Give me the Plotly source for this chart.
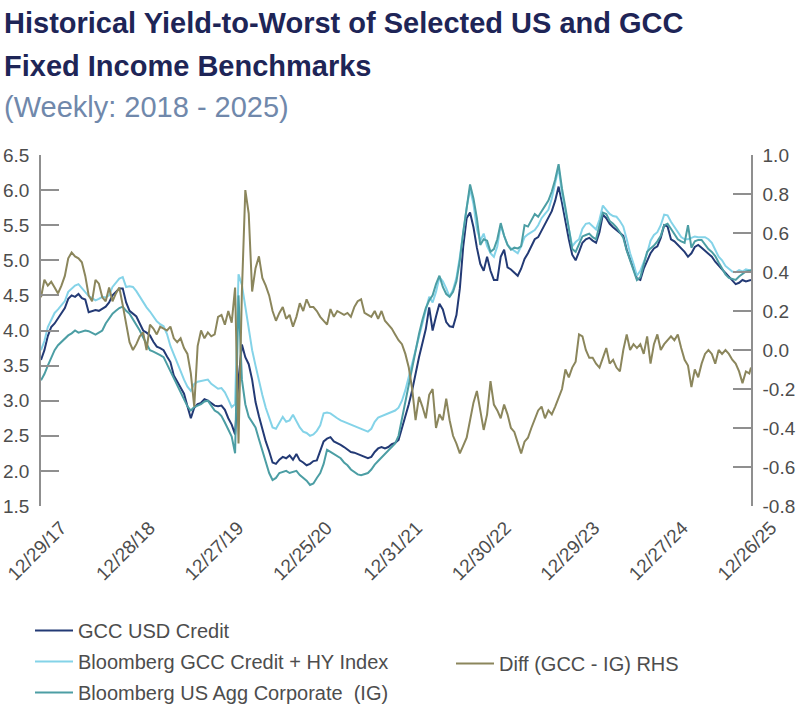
import pandas as pd
import plotly.graph_objects as go

# ---------------- data (bi-weekly sampling) ----------------
dates = list(pd.date_range("2017-12-29", periods=209, freq="14D")) + [pd.Timestamp("2025-12-26")]

gcc_usd_credit = [
    3.58, 3.72, 3.92, 4.05, 4.10, 4.18, 4.26, 4.32, 4.45, 4.50,
    4.48, 4.52, 4.46, 4.44, 4.26, 4.27, 4.29, 4.28, 4.31, 4.34,
    4.40, 4.50, 4.55, 4.60, 4.60, 4.40, 4.28, 4.24, 4.20, 4.10,
    4.00, 3.97, 3.93, 3.84, 3.77, 3.75, 3.72, 3.63, 3.55, 3.36,
    3.28, 3.20, 3.10, 2.92, 2.75, 2.90, 2.95, 2.97, 3.02, 3.00,
    2.96, 2.93, 2.92, 2.93, 2.87, 2.75, 2.66, 2.52, 3.30, 3.80,
    3.62, 3.52, 3.30, 2.98, 2.78, 2.58, 2.42, 2.28, 2.12, 2.10,
    2.16, 2.20, 2.18, 2.22, 2.16, 2.24, 2.15, 2.12, 2.08, 2.10,
    2.14, 2.15, 2.30, 2.42, 2.46, 2.48, 2.42, 2.40, 2.37, 2.34,
    2.30, 2.27, 2.26, 2.24, 2.22, 2.20, 2.18, 2.20, 2.27, 2.32,
    2.34, 2.32, 2.34, 2.38, 2.40, 2.44, 2.60, 2.77, 2.95, 3.15,
    3.40, 3.62, 3.82, 4.02, 4.33, 4.00, 4.20, 4.38, 4.30, 4.12,
    4.06, 4.05, 4.22, 4.60, 5.20, 5.60, 5.68, 5.47, 5.18, 4.95,
    4.85, 5.05, 4.85, 4.72, 4.72, 5.05, 5.15, 4.90, 4.87, 4.82,
    4.78, 4.88, 5.02, 5.10, 5.20, 5.30, 5.33, 5.42, 5.53, 5.60,
    5.70, 5.85, 6.05, 5.82, 5.55, 5.30, 5.08, 5.00, 5.12, 5.25,
    5.30, 5.32, 5.28, 5.25, 5.40, 5.65, 5.60, 5.52, 5.47, 5.43,
    5.38, 5.35, 5.15, 5.00, 4.88, 4.74, 4.72, 4.88, 5.00, 5.10,
    5.17, 5.20, 5.32, 5.50, 5.48, 5.30, 5.27, 5.22, 5.18, 5.12,
    5.05, 5.10, 5.19, 5.22, 5.18, 5.14, 5.10, 5.05, 4.98, 4.92,
    4.87, 4.82, 4.77, 4.72, 4.66, 4.68, 4.72, 4.70, 4.72, 4.72,
]

bbg_gcc_credit_hy = [
    3.72, 3.85, 4.05, 4.15, 4.25, 4.30, 4.36, 4.42, 4.55, 4.60,
    4.64, 4.66, 4.60, 4.55, 4.49, 4.46, 4.43, 4.45, 4.48, 4.47,
    4.50, 4.62, 4.68, 4.74, 4.76, 4.62, 4.63, 4.62, 4.56, 4.48,
    4.40, 4.33, 4.27, 4.19, 4.13, 4.09, 4.06, 3.95, 3.78, 3.66,
    3.55, 3.42, 3.30, 3.20, 3.14, 3.24, 3.27, 3.28, 3.30, 3.30,
    3.24, 3.20, 3.17, 3.18, 3.12, 3.02, 2.91, 2.95, 4.80, 4.65,
    4.33, 4.00, 3.72, 3.50, 3.28, 3.08, 2.90, 2.75, 2.62, 2.60,
    2.68, 2.77, 2.70, 2.72, 2.80, 2.70, 2.62, 2.56, 2.54, 2.50,
    2.52, 2.57, 2.65, 2.82, 2.83, 2.82, 2.78, 2.75, 2.72, 2.70,
    2.68, 2.66, 2.64, 2.62, 2.59, 2.58, 2.56, 2.60, 2.70, 2.76,
    2.78, 2.80, 2.82, 2.84, 2.86, 2.90, 3.00, 3.15, 3.34, 3.50,
    3.72, 3.90, 4.10, 4.30, 4.48, 4.40, 4.55, 4.76, 4.70, 4.60,
    4.48, 4.58, 4.75, 5.05, 5.40, 5.75, 6.02, 5.80, 5.45, 5.28,
    5.38, 5.20, 5.10, 5.05, 5.20, 5.50, 5.35, 5.22, 5.17, 5.14,
    5.10, 5.20, 5.33, 5.37, 5.40, 5.43, 5.50, 5.60, 5.66, 5.72,
    5.88, 6.10, 6.32, 5.95, 5.70, 5.42, 5.20, 5.26, 5.30, 5.45,
    5.52, 5.53, 5.48, 5.44, 5.58, 5.78, 5.72, 5.66, 5.63, 5.62,
    5.56, 5.48, 5.30, 5.10, 4.95, 4.78, 4.85, 4.98, 5.10, 5.28,
    5.36, 5.40, 5.50, 5.65, 5.64, 5.55, 5.48, 5.40, 5.33, 5.30,
    5.30, 5.32, 5.34, 5.33, 5.33, 5.33, 5.30, 5.25, 5.15, 5.05,
    5.00, 4.92, 4.88, 4.84, 4.83, 4.86, 4.84, 4.87, 4.86, 4.86,
]

bbg_us_agg_corp_ig = [
    3.29, 3.38, 3.50, 3.62, 3.72, 3.79, 3.84, 3.88, 3.93, 3.96,
    4.00, 3.97, 3.98, 4.00, 3.99, 3.96, 3.94, 3.97, 4.00, 4.10,
    4.17, 4.24, 4.28, 4.32, 4.34, 4.28, 4.24, 4.16, 4.10, 4.00,
    3.90, 3.80, 3.72, 3.70, 3.68, 3.65, 3.62, 3.52, 3.42, 3.32,
    3.23, 3.12, 3.03, 2.92, 2.86, 2.91, 2.93, 2.95, 2.99, 3.00,
    2.93, 2.86, 2.83, 2.78, 2.69, 2.60, 2.49, 2.25, 4.50, 3.30,
    2.95, 2.77, 2.70, 2.62, 2.45, 2.30, 2.12, 1.97, 1.87, 1.90,
    1.97, 1.98, 2.00, 1.97, 1.98, 2.00, 1.94, 1.90, 1.86, 1.80,
    1.82, 1.90, 1.97, 2.10, 2.30, 2.27, 2.24, 2.21, 2.18, 2.12,
    2.08, 2.02, 1.98, 1.95, 1.94, 1.96, 1.97, 2.02, 2.09, 2.14,
    2.19, 2.24, 2.30, 2.34, 2.39, 2.50, 2.75, 3.00, 3.25, 3.48,
    3.72, 3.95, 4.15, 4.32, 4.43, 4.50, 4.66, 4.78, 4.62, 4.52,
    4.48, 4.55, 4.70, 5.00, 5.40, 5.78, 6.08, 5.88, 5.60, 5.22,
    5.30, 5.28, 5.12, 5.16, 5.30, 5.53, 5.35, 5.22, 5.15, 5.18,
    5.17, 5.20, 5.50, 5.48, 5.58, 5.66, 5.62, 5.70, 5.77, 5.85,
    5.98, 6.15, 6.37, 6.02, 5.75, 5.45, 5.16, 5.12, 5.22, 5.34,
    5.36, 5.38, 5.33, 5.30, 5.50, 5.68, 5.66, 5.56, 5.52, 5.47,
    5.40, 5.32, 5.14, 5.00, 4.86, 4.72, 4.76, 4.95, 5.12, 5.17,
    5.21, 5.27, 5.35, 5.50, 5.52, 5.45, 5.38, 5.30, 5.27, 5.25,
    5.50, 5.18, 5.27, 5.29, 5.29, 5.22, 5.16, 5.12, 5.06, 4.97,
    4.88, 4.80, 4.75, 4.73, 4.72, 4.77, 4.81, 4.84, 4.85, 4.86,
]

diff_gcc_ig = [
    0.27, 0.36, 0.33, 0.35, 0.32, 0.29, 0.33, 0.38, 0.47, 0.50,
    0.48, 0.47, 0.45, 0.38, 0.28, 0.25, 0.36, 0.34, 0.27, 0.25,
    0.32, 0.25, 0.29, 0.32, 0.23, 0.14, 0.04, 0.00, 0.03, 0.07,
    0.09, 0.00, 0.13, 0.11, 0.08, 0.12, 0.11, 0.10, 0.12, 0.06,
    0.04, 0.06, 0.01, -0.02, -0.12, -0.29, 0.02, 0.10, 0.06, 0.09,
    0.07, 0.08, 0.17, 0.18, 0.13, 0.20, 0.14, 0.32, -0.48, 0.30,
    0.82, 0.70, 0.30, 0.42, 0.48, 0.37, 0.33, 0.28, 0.20, 0.15,
    0.19, 0.22, 0.16, 0.18, 0.12, 0.17, 0.24, 0.20, 0.26, 0.22,
    0.22, 0.20, 0.17, 0.15, 0.13, 0.21, 0.17, 0.20, 0.19, 0.18,
    0.19, 0.17, 0.22, 0.25, 0.26, 0.19, 0.18, 0.17, 0.20, 0.16,
    0.20, 0.15, 0.13, 0.11, 0.08, 0.05, 0.03, -0.02, -0.09, -0.20,
    -0.36, -0.24, -0.29, -0.35, -0.23, -0.20, -0.40, -0.33, -0.36, -0.25,
    -0.36, -0.44, -0.48, -0.53, -0.49, -0.45, -0.36, -0.27, -0.21, -0.32,
    -0.41, -0.33, -0.16, -0.28, -0.31, -0.35, -0.28, -0.33, -0.40, -0.42,
    -0.48, -0.53, -0.47, -0.45, -0.40, -0.35, -0.31, -0.29, -0.35, -0.31,
    -0.33, -0.29, -0.24, -0.20, -0.10, -0.14, -0.09, -0.06, 0.08, 0.07,
    0.00, -0.04, -0.04, -0.07, -0.09, -0.04, 0.01, -0.07, -0.05, -0.09,
    -0.11, 0.00, 0.08, 0.00, 0.03, 0.01, 0.03, -0.02, 0.07, -0.07,
    0.03, 0.08, 0.00, 0.03, 0.05, 0.07, 0.05, 0.08, 0.01, -0.05,
    -0.08, -0.19, -0.10, -0.14, -0.07, -0.02, 0.00, -0.02, -0.07, 0.00,
    -0.02, 0.00, -0.02, -0.05, -0.07, -0.11, -0.17, -0.11, -0.12, -0.09,
]

x_tick_dates = ["2017-12-29", "2018-12-28", "2019-12-27", "2020-12-25", "2021-12-31",
                "2022-12-30", "2023-12-29", "2024-12-27", "2025-12-26"]
x_tick_labels = ["12/29/17", "12/28/18", "12/27/19", "12/25/20", "12/31/21",
                 "12/30/22", "12/29/23", "12/27/24", "12/26/25"]
left_ticks = [1.5, 2.0, 2.5, 3.0, 3.5, 4.0, 4.5, 5.0, 5.5, 6.0, 6.5]
left_tick_labels = ["1.5", "2.0", "2.5", "3.0", "3.5", "4.0", "4.5", "5.0", "5.5", "6.0", "6.5"]
right_ticks = [-0.8, -0.6, -0.4, -0.2, 0.0, 0.2, 0.4, 0.6, 0.8, 1.0]
right_tick_labels = ["-0.8", "-0.6", "-0.4", "-0.2", "0.0", "0.2", "0.4", "0.6", "0.8", "1.0"]

# ---------------- styling ----------------
NAVY = "#233a75"
LIGHT = "#84d3e8"
TEAL = "#4c9ea4"
OLIVE = "#8b865c"
AXIS = "#8f8f8f"
TXT = "#4d4d4d"
FONT = "Liberation Sans, Arial, sans-serif"

W, H = 800, 719
PL, PR, PT, PB = 41, 751, 155, 506  # plot area in pixels


def px_x(p):
    return p / W


def px_y(p):
    return 1 - p / H


fig = go.Figure()
fig.add_trace(go.Scatter(x=dates, y=gcc_usd_credit, name="GCC USD Credit", mode="lines",
                         line=dict(color=NAVY, width=2), legend="legend", legendgroup="a"))
fig.add_trace(go.Scatter(x=dates, y=bbg_gcc_credit_hy, name="Bloomberg GCC Credit + HY Index", mode="lines",
                         line=dict(color=LIGHT, width=2), legend="legend", legendgroup="b"))
fig.add_trace(go.Scatter(x=dates, y=bbg_us_agg_corp_ig, name="Bloomberg US Agg Corporate  (IG)", mode="lines",
                         line=dict(color=TEAL, width=2), legend="legend", legendgroup="c"))
fig.add_trace(go.Scatter(x=dates, y=diff_gcc_ig, name="Diff (GCC - IG) RHS", mode="lines",
                         line=dict(color=OLIVE, width=2), yaxis="y2", legend="legend2"))

fig.update_layout(
    width=W, height=H,
    margin=dict(l=0, r=0, t=0, b=0),
    paper_bgcolor="white", plot_bgcolor="white",
    font=dict(family=FONT, size=19, color=TXT),
    showlegend=True,
    xaxis=dict(
        domain=[px_x(PL), px_x(PR)],
        type="date",
        range=["2017-12-29", "2025-12-26"],
        tickvals=x_tick_dates, ticktext=x_tick_labels,
        tickangle=-45, showgrid=False, zeroline=False, showline=False, ticks="",
        tickfont=dict(size=19, color=TXT), ticklabelshift=20, ticklabelstandoff=6,
        automargin=False,
    ),
    yaxis=dict(
        domain=[px_y(PB), px_y(PT)],
        range=[1.5, 6.5], tickvals=left_ticks, ticktext=left_tick_labels,
        showgrid=False, zeroline=False, showline=True, linecolor=AXIS, linewidth=1.5,
        ticks="inside", ticklen=18, tickwidth=1.5, tickcolor=AXIS,
        tickfont=dict(size=19, color=TXT), ticklabelstandoff=6, automargin=False,
    ),
    yaxis2=dict(
        range=[-0.8, 1.0], tickvals=right_ticks, ticktext=right_tick_labels,
        overlaying="y", side="right", anchor="x",
        showgrid=False, zeroline=False, showline=True, linecolor=AXIS, linewidth=1.5,
        ticks="inside", ticklen=18, tickwidth=1.5, tickcolor=AXIS,
        tickfont=dict(size=19, color=TXT), ticklabelstandoff=6, automargin=False,
    ),
    legend=dict(
        x=px_x(30), y=px_y(611),
        xanchor="left", yanchor="top", orientation="v",
        font=dict(size=20, color=TXT), tracegroupgap=2, itemwidth=38,
        bgcolor="rgba(0,0,0,0)",
    ),
    legend2=dict(
        x=px_x(451), y=px_y(644),
        xanchor="left", yanchor="top", orientation="v",
        font=dict(size=20, color=TXT), itemwidth=38,
        bgcolor="rgba(0,0,0,0)",
    ),
)

fig.add_annotation(text="<b>Historical Yield-to-Worst of Selected US and GCC</b>",
                   xref="paper", yref="paper", x=px_x(2), y=px_y(5),
                   xanchor="left", yanchor="top", showarrow=False,
                   font=dict(family=FONT, size=29, color="#1e2557"))
fig.add_annotation(text="<b>Fixed Income Benchmarks</b>",
                   xref="paper", yref="paper", x=px_x(2), y=px_y(48),
                   xanchor="left", yanchor="top", showarrow=False,
                   font=dict(family=FONT, size=29, color="#1e2557"))
fig.add_annotation(text="(Weekly: 2018 - 2025)",
                   xref="paper", yref="paper", x=px_x(2), y=px_y(89),
                   xanchor="left", yanchor="top", showarrow=False,
                   font=dict(family=FONT, size=29, color="#7088ab"))

fig.write_html("out.html")
